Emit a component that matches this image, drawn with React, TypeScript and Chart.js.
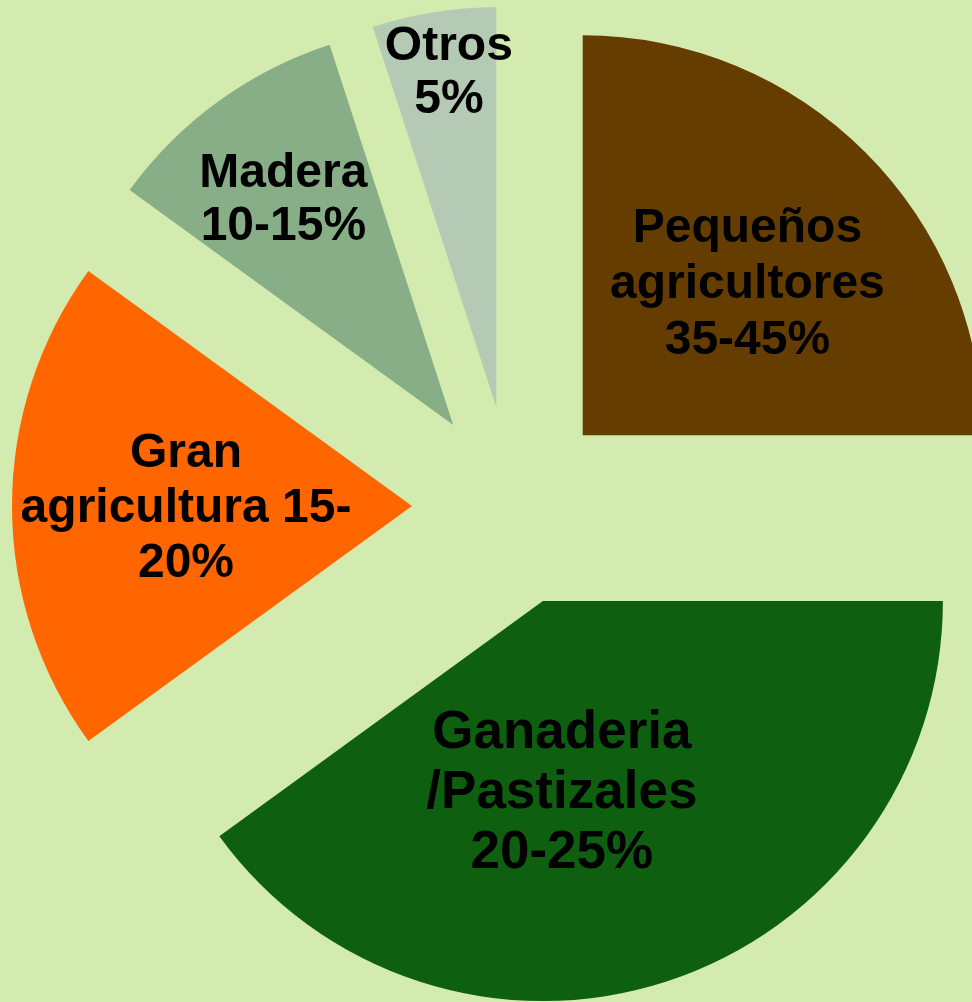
import React, { useEffect, useRef } from "react";
import { Chart, registerables } from "chart.js";

Chart.register(...registerables);

// ---- data ----
const categories = [
  "Pequeños agricultores",
  "Ganaderia /Pastizales",
  "Gran agricultura",
  "Madera",
  "Otros",
];
const shares = [25, 40, 20, 10, 5];
const labelLines = [
  ["Pequeños", "agricultores", "35-45%"],
  ["Ganaderia", "/Pastizales", "20-25%"],
  ["Gran", "agricultura 15-", "20%"],
  ["Madera", "10-15%"],
  ["Otros", "5%"],
];

// ---- styles ----
const BG = "#d4ebaf";
const sliceColors = ["#663d00", "#0e6010", "#ff6600", "#88ae88", "#b4cab4"];
const EXPLODE = 100;
// label placement inside each slice: [radial fraction, angular fraction, font px, line height px]
const labelPlacement = [
  [0.564, 0.521, 48, 56],
  [0.472, 0.585, 53, 60],
  [0.565, 0.505, 48, 55],
  [0.712, 0.483, 48, 53],
  [0.852, 0.555, 48, 53],
];

const explodePlugin = {
  id: "explode",
  beforeDatasetsDraw(chart: any) {
    const ca = chart.chartArea;
    const cx = (ca.left + ca.right) / 2;
    const cy = (ca.top + ca.bottom) / 2;
    const meta = chart.getDatasetMeta(0);
    meta.data.forEach((arc: any) => {
      const mid = (arc.startAngle + arc.endAngle) / 2;
      arc.x = cx + Math.cos(mid) * EXPLODE;
      arc.y = cy + Math.sin(mid) * EXPLODE;
    });
  },
  afterDatasetsDraw(chart: any) {
    const ctx = chart.ctx;
    const meta = chart.getDatasetMeta(0);
    ctx.save();
    ctx.fillStyle = "#000000";
    ctx.textAlign = "center";
    ctx.textBaseline = "alphabetic";
    meta.data.forEach((arc: any, i: number) => {
      const [rf, af, size, lh] = labelPlacement[i];
      const ang = arc.startAngle + af * (arc.endAngle - arc.startAngle);
      const r = rf * arc.outerRadius;
      const ax = arc.x + Math.cos(ang) * r;
      const ay = arc.y + Math.sin(ang) * r;
      ctx.font = `bold ${size}px "Liberation Sans", Arial, sans-serif`;
      const lines = labelLines[i];
      const n = lines.length;
      lines.forEach((line, j) => {
        const y = ay + (j - (n - 1) / 2) * lh + (0.716 * size) / 2;
        ctx.fillText(line, ax, y);
      });
    });
    ctx.restore();
  },
};

export default function App() {
  const ref = useRef<HTMLCanvasElement | null>(null);
  useEffect(() => {
    if (!ref.current) return;
    const chart = new Chart(ref.current, {
      type: "pie",
      data: {
        labels: categories,
        datasets: [
          {
            data: shares,
            backgroundColor: sliceColors,
            borderWidth: 0,
          },
        ],
      },
      options: {
        responsive: false,
        animation: false,
        events: [],
        layout: { padding: { left: 112, top: 106, right: 60, bottom: 96 } },
        plugins: {
          legend: { display: false },
          tooltip: { enabled: false },
        },
      },
      plugins: [explodePlugin],
    });
    return () => chart.destroy();
  }, []);
  return (
    <div
      style={{
        position: "fixed",
        left: 0,
        top: 0,
        width: 972,
        height: 1002,
        background: BG,
        overflow: "hidden",
      }}
    >
      <canvas ref={ref} width={972} height={1002} style={{ display: "block" }} />
    </div>
  );
}
